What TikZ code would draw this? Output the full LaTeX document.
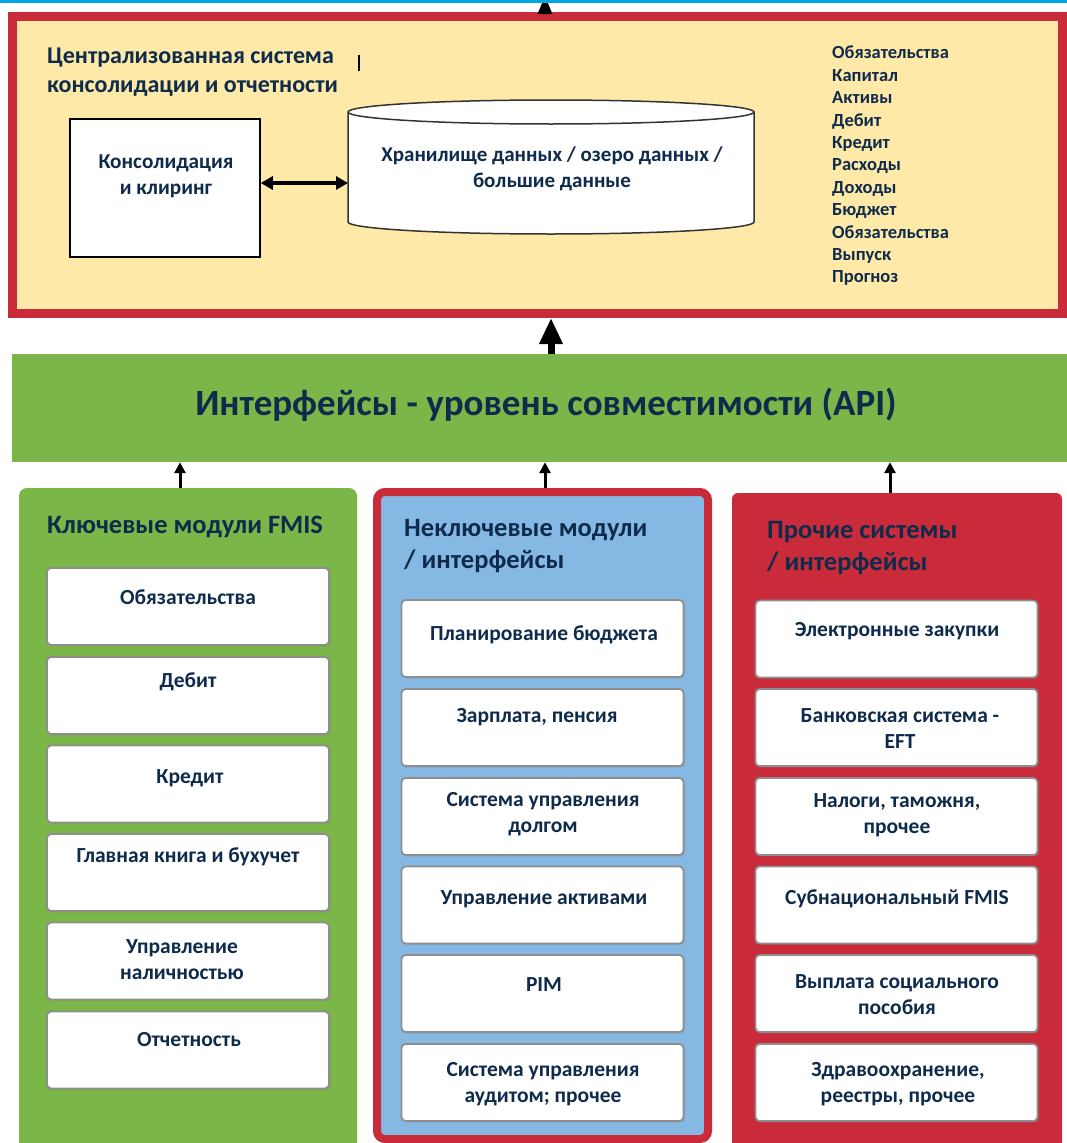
\documentclass[tikz,border=0pt]{standalone}
\usepackage{fontspec}
\setmainfont{Carlito}
\usetikzlibrary{arrows.meta,shadows}
\definecolor{fmisred}{HTML}{C92B3A}
\definecolor{fmisgreen}{HTML}{7AB648}
\definecolor{fmisblue}{HTML}{85B8E3}
\definecolor{sand}{HTML}{FFE9A8}
\definecolor{navy}{HTML}{0F2B4C}
\definecolor{boxgray}{HTML}{8E8E8E}
\definecolor{cyanline}{HTML}{00A7E1}
\tikzset{
  modbox/.style={draw=boxgray, line width=1.8pt, fill=white, rounded corners=4pt,
    minimum width=282pt, minimum height=77pt, inner sep=0pt,
    drop shadow={shadow xshift=1.5pt, shadow yshift=-1.5pt, opacity=0.25}},
  modtxt/.style={text=navy, font=\bfseries\fontsize{21.5}{26}\selectfont, align=center, inner sep=0pt},
  coltitle/.style={text=navy, font=\bfseries\fontsize{26.5}{32}\selectfont, align=left, anchor=west, inner sep=0pt},
  uparrow/.style={draw, line width=3pt, -{Triangle[length=11pt,width=11pt]}},
}
\begin{document}
\begin{tikzpicture}[x=1pt,y=-1pt]
\useasboundingbox (0,0) rectangle (1067,1143);

% top block
\node[draw=fmisred, line width=9pt, fill=sand, minimum width=1049.5pt, minimum height=297pt, inner sep=0pt] (csys) at (537.25,165) {};
\node[anchor=west, inner sep=0pt, text=navy, align=left, font=\bfseries\fontsize{24}{29}\selectfont] (ctitle) at (47,72.5) {Централизованная система\\консолидации и отчетности};
\path[draw, line width=1.5pt] (359,55) -- (359,71);
\node[draw, line width=1.5pt, fill=white, minimum width=190pt, minimum height=138pt, inner sep=0pt] (cons) at (165,188) {};
\node[modtxt, font=\bfseries\fontsize{21.2}{26}\selectfont] (constxt) at (166,176) {Консолидация\\и клиринг};

% storage cylinder
\path[draw=black!80, line width=1.5pt, fill=white] (348,112) -- (348,222) arc[start angle=180, end angle=0, x radius=203, y radius=12] -- (754,112) arc[start angle=0, end angle=-180, x radius=203, y radius=12] -- cycle;
\path[draw=black!80, line width=1.5pt] (348,112) arc[start angle=180, end angle=0, x radius=203, y radius=12];
\node[modtxt, font=\bfseries\fontsize{21}{26}\selectfont] (dwh) at (552,169) {Хранилище данных / озеро данных /\\большие данные};
\coordinate (dwhL) at (348,183);
\path[draw, line width=4pt, {Triangle[length=12pt,width=13pt]}-{Triangle[length=12pt,width=13pt]}] (cons.east |- dwhL) -- (dwhL);

\node[anchor=north west, inner sep=0pt, text=navy, align=left, font=\bfseries\fontsize{18.5}{22.4}\selectfont] (fields) at (832,46) {Обязательства\\Капитал\\Активы\\Дебит\\Кредит\\Расходы\\Доходы\\Бюджет\\Обязательства\\Выпуск\\Прогноз};

% API layer
\node[fill=fmisgreen, minimum width=1058pt, minimum height=108pt, inner sep=0pt] (api) at (541,408) {};
\node[inner sep=0pt, text=navy, font=\bfseries\fontsize{37}{42}\selectfont] (apitxt) at (546,405) {Интерфейсы - уровень совместимости (API)};
\coordinate (ax) at (551,0);
\path[draw, line width=7pt, -{Triangle[length=26pt,width=22pt]}] (api.north -| ax) -- (csys.south -| ax);
\coordinate (topout) at (545,-4);
\path[draw, line width=3pt, -{Triangle[length=18pt,width=14pt]}] (csys.north -| topout) -- (topout);
\path[draw=cyanline, line width=3pt] (0,1.5) -- (1067,1.5);

% columns
\node[fill=fmisgreen, rounded corners=8pt, minimum width=338pt, minimum height=670pt, inner sep=0pt] (keycol) at (188,823) {};
\node[draw=fmisred, line width=8pt, fill=fmisblue, rounded corners=8pt, minimum width=331pt, minimum height=647pt, inner sep=0pt] (noncol) at (542.5,815.5) {};
\node[fill=fmisred, rounded corners=6pt, minimum width=330pt, minimum height=665pt, inner sep=0pt] (othcol) at (897,825.5) {};
\coordinate (ka) at (180,0);
\coordinate (na) at (545,0);
\coordinate (oa) at (890,0);
\path[uparrow] (keycol.north -| ka) -- (api.south -| ka);
\path[uparrow] (noncol.north -| na) -- (api.south -| na);
\path[uparrow] (othcol.north -| oa) -- (api.south -| oa);

\node[coltitle] (keyttl) at (47,527) {Ключевые модули FMIS};
\node[coltitle] (nonttl) at (404,546) {Неключевые модули\\/ интерфейсы};
\node[coltitle] (othttl) at (767,548.5) {Прочие системы\\/ интерфейсы};

% key modules
\node[modbox] (k1) at (188,606.5) {};
\node[modtxt] (k1t) at (188,597) {Обязательства};
\node[modbox] (k2) at (188,695.5) {};
\node[modtxt] (k2t) at (188,682) {Дебит};
\node[modbox] (k3) at (188,784) {};
\node[modtxt] (k3t) at (190,778) {Кредит};
\node[modbox] (k4) at (188,872.5) {};
\node[modtxt] (k4t) at (188,857) {Главная книга и бухучет};
\node[modbox] (k5) at (188,961) {};
\node[modtxt] (k5t) at (182,960) {Управление\\наличностью};
\node[modbox] (k6) at (188,1050) {};
\node[modtxt] (k6t) at (189,1040) {Отчетность};

% non-key modules
\node[modbox] (n1) at (542.5,638.5) {};
\node[modtxt] (n1t) at (544,635) {Планирование бюджета};
\node[modbox] (n2) at (542.5,727.5) {};
\node[modtxt] (n2t) at (537,717) {Зарплата, пенсия};
\node[modbox] (n3) at (542.5,816.5) {};
\node[modtxt] (n3t) at (543,814) {Система управления\\долгом};
\node[modbox] (n4) at (542.5,905) {};
\node[modtxt] (n4t) at (544,899) {Управление активами};
\node[modbox] (n5) at (542.5,993.5) {};
\node[modtxt] (n5t) at (544,985) {PIM};
\node[modbox] (n6) at (542.5,1082.5) {};
\node[modtxt] (n6t) at (543,1084) {Система управления\\аудитом; прочее};

% other systems
\node[modbox] (o1) at (896.5,639) {};
\node[modtxt] (o1t) at (897,631) {Электронные закупки};
\node[modbox] (o2) at (896.5,727.5) {};
\node[modtxt] (o2t) at (900,728.5) {Банковская система -\\EFT};
\node[modbox] (o3) at (896.5,816.5) {};
\node[modtxt] (o3t) at (897,815) {Налоги, таможня,\\прочее};
\node[modbox] (o4) at (896.5,905) {};
\node[modtxt] (o4t) at (897,899) {Субнациональный FMIS};
\node[modbox] (o5) at (896.5,993.5) {};
\node[modtxt] (o5t) at (897,994.5) {Выплата социального\\пособия};
\node[modbox] (o6) at (896.5,1082.5) {};
\node[modtxt] (o6t) at (898,1084) {Здравоохранение,\\реестры, прочее};
\end{tikzpicture}
\end{document}
